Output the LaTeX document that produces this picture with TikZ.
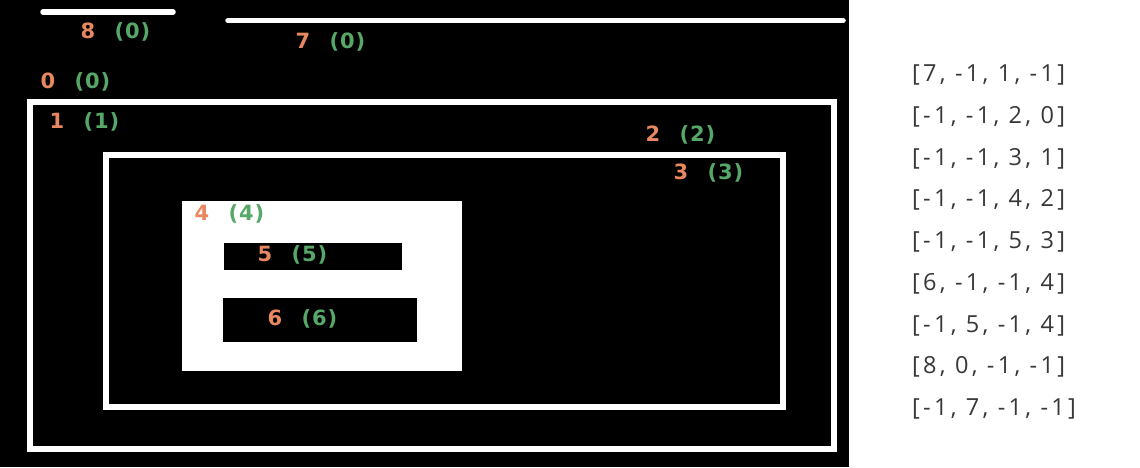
\documentclass[tikz,border=0pt]{standalone}
\usepackage{fontspec}
\setmainfont{Open Sans}
\newfontfamily\listfont[LetterSpace=14]{Open Sans}
\newfontfamily\lblfont[LetterSpace=4]{DejaVu Sans}
\definecolor{numorange}{RGB}{232, 136, 96}
\definecolor{idgreen}{RGB}{86, 168, 104}
\definecolor{listgray}{RGB}{56, 56, 56}
\usetikzlibrary{positioning}

\begin{document}
\begin{tikzpicture}[x=1pt, y=-1pt,
  contour/.style={draw=white, line width=5.5pt},
  numlbl/.style={inner sep=0pt, text=numorange, font=\lblfont\fontsize{21}{24}\selectfont\bfseries},
  idlbl/.style={inner sep=0pt, text=idgreen, font=\lblfont\fontsize{21}{24}\selectfont\bfseries},
  rowlbl/.style={inner sep=0pt, anchor=west, text=listgray, font=\listfont\fontsize{23.5}{28}\selectfont}]
  \useasboundingbox (0,0) rectangle (1140,467);
  \fill[white] (0,0) rectangle (1140,467);
  \fill[black] (0,0) rectangle (849,467);

  % contours
  \draw[contour, line cap=round] (43,12) -- (173,12);
  \draw[contour, line cap=round] (228,20.5) -- (843,20.5);
  \draw[contour, line width=6pt] (30,102) rectangle (834,449);
  \draw[contour] (106,155) rectangle (783,407);
  \fill[white] (182,201) rectangle (462,371);
  \fill[black] (224,243) rectangle (402,270);
  \fill[black] (223,298) rectangle (417,342);

  % index (parent)
  \foreach \n/\id/\x/\y in {8/0/88/31, 7/0/303/41, 0/0/48/81, 1/1/57/121,
      2/2/653/134, 3/3/681/172, 4/4/202/213, 5/5/265/254, 6/6/275/318}{
    \node[numlbl] (n\n) at (\x,\y) {\n};
    \node[idlbl, right=19pt of n\n.base east, anchor=base west] (i\n) {(\id)};
  }

  % hierarchy rows
  \foreach \row [count=\i from 0] in {{[7, -1, 1, -1]}, {[-1, -1, 2, 0]}, {[-1, -1, 3, 1]},
      {[-1, -1, 4, 2]}, {[-1, -1, 5, 3]}, {[6, -1, -1, 4]}, {[-1, 5, -1, 4]},
      {[8, 0, -1, -1]}, {[-1, 7, -1, -1]}}{
    \node[rowlbl] (row\i) at (912, 75+41.75*\i) {\row};
  }
\end{tikzpicture}
\end{document}
